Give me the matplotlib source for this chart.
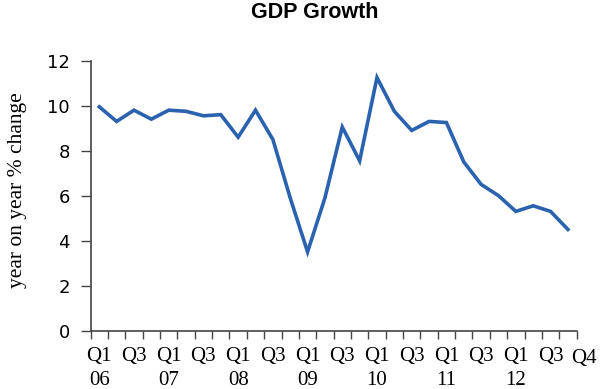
import numpy as np
import matplotlib.pyplot as plt
import matplotlib.transforms as mtrans

# quarterly year-on-year GDP growth, Q1 2006 .. Q4 2012
quarters = [f"{y}Q{q}" for y in range(2006, 2013) for q in range(1, 5)]
growth = [9.95, 9.3, 9.8, 9.4, 9.8, 9.75, 9.55, 9.6,
          8.6, 9.8, 8.5, 5.9, 3.5, 5.9, 9.05, 7.55,
          11.25, 9.75, 8.9, 9.3, 9.25, 7.5, 6.5, 6.0,
          5.3, 5.55, 5.3, 4.5]
tick_labels = []
for name in quarters:
    yr, q = name[2:4], name[4:]
    if q == "Q1":
        tick_labels.append("Q1\n" + yr)
    elif q == "Q3":
        tick_labels.append("Q3")
    else:
        tick_labels.append("")
end_label = "Q4"

serif = ['Liberation Serif', 'DejaVu Serif']
x = np.arange(len(growth))

fig = plt.figure(figsize=(6, 3.89), dpi=100)
ax = fig.add_axes([0.151, 0.150, 0.810, 0.694])
ax.plot(x, growth, color='#2a62b0', lw=2.6, solid_joinstyle='miter')

ax.set_xlim(-0.5, len(growth) - 0.5)
ax.set_ylim(0, 12)
ax.set_yticks(np.arange(0, 13, 2))
ax.tick_params(axis='y', length=7, width=1, color='#444444', pad=8, labelsize=13)

ax.set_xticks(x)
ax.set_xticklabels(tick_labels, family=serif, fontsize=15, va='top', linespacing=1.35)
ax.set_xticks(np.arange(-0.5, len(growth)), minor=True)
ax.tick_params(axis='x', which='major', length=0, pad=12)
ax.tick_params(axis='x', which='minor', length=6, width=1, color='#444444')

for s in ['top', 'right']:
    ax.spines[s].set_visible(False)
for s in ['left', 'bottom']:
    ax.spines[s].set_color('#444444')
    ax.spines[s].set_linewidth(1.2)

trans = mtrans.blended_transform_factory(ax.transData, fig.transFigure)
ax.text(27.92, 1 - 359 / 389, end_label, transform=trans, family=serif,
        fontsize=15, ha='center', va='center')

fig.text(0.03, 0.51, "year on year % change", rotation=90, family=serif,
         fontsize=15.5, ha='center', va='center')
fig.text(0.525, 0.968, "GDP Growth", fontsize=15.5, fontweight='bold',
         family=['Liberation Sans', 'DejaVu Sans'], ha='center', va='center')

fig.savefig('out.png', dpi=100)
